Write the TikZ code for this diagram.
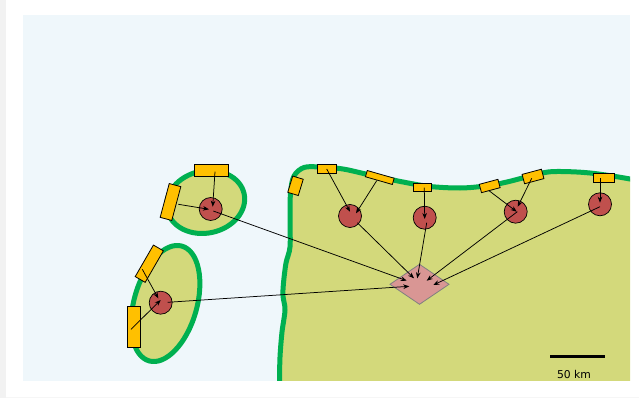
\documentclass[tikz,border=0pt]{standalone}
\usepackage{fontspec}
\setmainfont{DejaVu Sans}
\usetikzlibrary{arrows.meta,shapes.geometric}
\definecolor{panelc}{HTML}{EFF7FB}
\definecolor{landc}{HTML}{D3D97B}
\definecolor{coastc}{HTML}{00B050}
\definecolor{sensorc}{HTML}{FFC000}
\definecolor{sitec}{HTML}{C0504D}
\definecolor{hubc}{HTML}{D99694}
\tikzset{
  land/.style={fill=landc,draw=coastc,line width=5pt,line join=round},
  sensor/.style={rectangle,draw=black,fill=sensorc,line width=0.8pt,inner sep=0pt,outer sep=0pt},
  site/.style={circle,draw=black,fill=sitec,line width=0.7pt,minimum size=23pt,inner sep=0pt,outer sep=0pt},
  hub/.style={diamond,draw=gray,fill=hubc,line width=0.8pt,inner sep=0pt,outer sep=0pt,minimum width=59pt,minimum height=40pt,aspect=1.475},
  link/.style={draw=black,line width=0.75pt,-{Stealth[length=6pt,width=4.6pt]}}
}
\newcommand{\lnk}[6]{\draw[link] ([xshift=#2pt,yshift=#3pt]#1.center) -- ([xshift=#5pt,yshift=#6pt]#4.center);}
\begin{document}
\begin{tikzpicture}[x=1pt,y=-1pt]
\useasboundingbox (0,0) rectangle (639,398);
\fill[white] (0,0) rectangle (639,398);
\fill[gray!10] (0,0) rectangle (6,398);
\fill[gray!7] (6,397) rectangle (639,398);
\fill[panelc] (22.7,15.5) rectangle (630,380.7);
% islands
\begin{scope}
\clip (22.7,15.5) rectangle (630,380.7);
\draw[land] plot[smooth,tension=0.55] coordinates {(279,400) (279.5,381) (280,357) (282,332) (285,310) (283,296) (283.5,283) (286,263) (290,247) (290,220) (290.5,193) (294,176) (304,167.5) (320,167) (343,169) (370,175) (403,182) (430,186.5) (460,188) (485,186) (507,182) (540,173.5) (557,171.5) (590,173) (630,179) (660,186)} -- (660,400) -- cycle;
\end{scope}
\draw[land,shift={(205.7,202)},rotate=12] (0,0) ellipse (39.3 and 31.1);
\draw[land,shift={(165.5,303.5)},rotate=74] (0,0) ellipse (59.7 and 31.4);
% sensors
\node[sensor,minimum width=34pt,minimum height=11.5pt] (sA) at (211.5,170.3) {};
\node[sensor,minimum width=35pt,minimum height=12pt,rotate=75] (sB) at (170.5,202) {};
\node[sensor,minimum width=36.4pt,minimum height=11.5pt,rotate=60] (sC) at (149.3,263.7) {};
\node[sensor,minimum width=12.7pt,minimum height=40.6pt] (sD) at (133.7,327) {};
\node[sensor,minimum width=19.3pt,minimum height=9.3pt] (sE) at (327,169) {};
\node[sensor,minimum width=17pt,minimum height=11pt,rotate=73] (sF) at (295.5,185.8) {};
\node[sensor,minimum width=28pt,minimum height=6.5pt,rotate=-16] (sG) at (379.8,177.5) {};
\node[sensor,minimum width=18.7pt,minimum height=8.5pt] (sH) at (422.3,187.5) {};
\node[sensor,minimum width=19.3pt,minimum height=8.6pt,rotate=15] (sI) at (489.7,186) {};
\node[sensor,minimum width=20pt,minimum height=9.7pt,rotate=15] (sJ) at (533,176.5) {};
\node[sensor,minimum width=21.3pt,minimum height=9.3pt] (sK) at (604,178) {};
% sites
\node[site] (c1) at (210.7,209) {};
\node[site] (c2) at (160.7,302.7) {};
\node[site] (c3) at (350,216) {};
\node[site] (c4) at (424.7,217.7) {};
\node[site] (c5) at (515.7,211.7) {};
\node[site] (c6) at (600,204.3) {};
\node[hub] (hub) at (419.5,284.3) {};
% sensor links
\lnk{sA}{3.5}{-1.4}{c1}{2}{2.3}
\lnk{sB}{7.8}{-2.3}{c1}{-1.7}{-0.3}
\lnk{sC}{-7}{-5.6}{c2}{-2.4}{4.4}
\lnk{sD}{-2.7}{-2.3}{c2}{0}{2.7}
\lnk{sE}{-0.3}{0}{c3}{0}{4.3}
\lnk{sG}{-3.1}{-3.2}{c3}{6}{2.7}
\lnk{sH}{2}{-0.2}{c4}{0}{-1.3}
\lnk{sI}{-0.7}{-4.7}{c5}{1}{0}
\lnk{sJ}{-1.3}{-1.8}{c5}{2}{5}
\lnk{sK}{-4}{-0.3}{c6}{0}{1.6}
% hub links
\lnk{c1}{2.6}{-2}{hub}{-12.8}{3.6}
\lnk{c2}{7}{0.4}{hub}{-10.2}{-2}
\lnk{c3}{7.3}{-6.7}{hub}{-5.5}{6}
\lnk{c4}{2}{-5}{hub}{-2.2}{6}
\lnk{c5}{1.6}{0}{hub}{7.2}{3.6}
\lnk{c6}{0}{-2.4}{hub}{13.8}{-0.7}
% scale bar
\coordinate (barL) at (550,356.3);
\coordinate (barR) at (605,356.3);
\draw[black,line width=3pt] (barL) -- (barR);
\node[inner sep=0pt,font=\fontsize{10.8}{12}\selectfont] (scale) at (574,374.3) {50 km};
\end{tikzpicture}
\end{document}
